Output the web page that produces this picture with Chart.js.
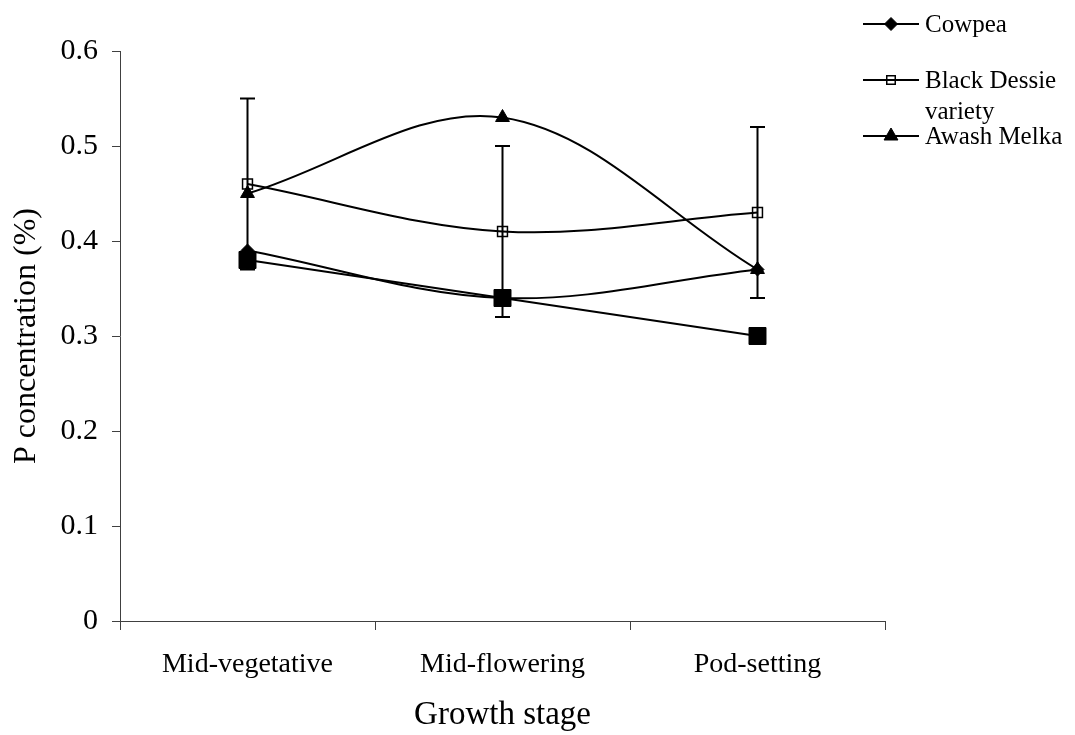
<!DOCTYPE html>
<html>
<head>
<meta charset="utf-8">
<title>P concentration by growth stage</title>
<script src="https://cdn.jsdelivr.net/npm/chart.js@4/dist/chart.umd.min.js"></script>
<style>
  html, body { margin: 0; padding: 0; background: #fff; }
  #wrap { width: 1075px; height: 735px; }
</style>
</head>
<body>
<div id="wrap"><canvas id="pChart" width="1075" height="735"></canvas></div>
<script>
// values
const stages = ['Mid-vegetative', 'Mid-flowering', 'Pod-setting'];
const cowpea = [0.39, 0.34, 0.37];
const blackDessie = [0.46, 0.41, 0.43];
const awashMelka = [0.45, 0.53, 0.37];
const unlabelled = [0.38, 0.34, 0.30];   // big black squares, not in the legend
const blackDessieErr = [0.09, 0.09, 0.09];
const yTickLabels = ['0', '0.1', '0.2', '0.3', '0.4', '0.5', '0.6'];

const serif = '"Liberation Serif", "Times New Roman", serif';
const ink = '#000';
const axisGrey = '#404040';

// error bars on the Black Dessie series
const errorBars = {
  id: 'errorBars',
  afterDatasetsDraw(chart) {
    const ctx = chart.ctx;
    const xs = chart.scales.x, ys = chart.scales.y;
    const cap = 7.5;
    ctx.save();
    ctx.strokeStyle = ink;
    ctx.lineWidth = 2;
    blackDessie.forEach((v, i) => {
      const x = xs.getPixelForValue(i);
      const top = ys.getPixelForValue(v + blackDessieErr[i]);
      const bot = ys.getPixelForValue(v - blackDessieErr[i]);
      ctx.beginPath();
      ctx.moveTo(x, top); ctx.lineTo(x, bot);
      ctx.moveTo(x - cap, top); ctx.lineTo(x + cap, top);
      ctx.moveTo(x - cap, bot); ctx.lineTo(x + cap, bot);
      ctx.stroke();
    });
    ctx.restore();
  }
};

// legend drawn top right, long names wrap like the original
const sideLegend = {
  id: 'sideLegend',
  afterDraw(chart) {
    const ctx = chart.ctx;
    const rowsY = [24, 80, 136];
    const lineX0 = 863, lineX1 = 919, textX = 925, maxW = 145;
    ctx.save();
    ctx.font = '25px ' + serif;
    ctx.fillStyle = ink;
    ctx.textBaseline = 'alphabetic';
    let row = 0;
    chart.data.datasets.forEach(ds => {
      if (!ds.inLegend) return;
      const y = rowsY[row++];
      ctx.strokeStyle = ink;
      ctx.lineWidth = 2;
      ctx.beginPath();
      ctx.moveTo(lineX0, y); ctx.lineTo(lineX1, y);
      ctx.stroke();
      ctx.fillStyle = ds.pointBackgroundColor;
      ctx.strokeStyle = ds.pointBorderColor;
      ctx.lineWidth = ds.pointBorderWidth;
      Chart.helpers.drawPoint(ctx, { pointStyle: ds.pointStyle, radius: ds.legendRadius, rotation: 0, borderWidth: ds.pointBorderWidth },
        (lineX0 + lineX1) / 2, y);
      // wrap words
      const words = ds.label.split(' ');
      const lines = [];
      let cur = '';
      words.forEach(w => {
        const t = cur ? cur + ' ' + w : w;
        if (cur && ctx.measureText(t).width > maxW) { lines.push(cur); cur = w; }
        else cur = t;
      });
      lines.push(cur);
      ctx.fillStyle = ink;
      lines.forEach((t, k) => ctx.fillText(t, textX, y + 8 + k * 31));
    });
    ctx.restore();
  }
};

new Chart(document.getElementById('pChart'), {
  type: 'line',
  data: {
    labels: stages,
    datasets: [
      {
        label: 'Cowpea', data: cowpea, inLegend: true,
        borderColor: ink, borderWidth: 2, tension: 0.35,
        pointStyle: 'rectRot', pointRadius: 6.5, legendRadius: 6.5,
        pointBackgroundColor: ink, pointBorderColor: ink, pointBorderWidth: 1
      },
      {
        label: 'Black Dessie variety', data: blackDessie, inLegend: true,
        borderColor: ink, borderWidth: 2, tension: 0.35,
        pointStyle: 'rect', pointRadius: 7, legendRadius: 6,
        pointBackgroundColor: 'rgba(0,0,0,0)', pointBorderColor: ink, pointBorderWidth: 1.5
      },
      {
        label: 'Awash Melka', data: awashMelka, inLegend: true,
        borderColor: ink, borderWidth: 2, tension: 0.35,
        pointStyle: 'triangle', pointRadius: 8, legendRadius: 8,
        pointBackgroundColor: ink, pointBorderColor: ink, pointBorderWidth: 1
      },
      {
        label: '', data: unlabelled, inLegend: false,
        borderColor: ink, borderWidth: 2, tension: 0,
        pointStyle: 'rect', pointRadius: 12,
        pointBackgroundColor: ink, pointBorderColor: ink, pointBorderWidth: 1
      }
    ]
  },
  options: {
    responsive: false,
    animation: false,
    devicePixelRatio: 1,
    layout: { padding: { top: 51, right: 190, bottom: 0, left: 0 } },
    plugins: { legend: { display: false }, tooltip: { enabled: false } },
    scales: {
      x: {
        type: 'category',
        offset: true,
        grid: { offset: true, drawOnChartArea: false, drawTicks: true, tickLength: 9, color: axisGrey, lineWidth: 1 },
        border: { display: true, color: axisGrey, width: 1 },
        ticks: { color: ink, font: { family: serif, size: 28 }, padding: 18, maxRotation: 0, autoSkip: false },
        title: { display: true, text: 'Growth stage', color: ink, font: { family: serif, size: 33 }, padding: { top: 0, bottom: 0 } },
        afterFit(s) { s.height = 114; }
      },
      y: {
        min: 0,
        max: 0.6,
        grid: { drawOnChartArea: false, drawTicks: true, tickLength: 8, color: axisGrey, lineWidth: 1 },
        border: { display: true, color: axisGrey, width: 1 },
        ticks: {
          stepSize: 0.1, color: ink, font: { family: serif, size: 30 }, padding: 14,
          callback: (v, i) => yTickLabels[i]
        },
        title: { display: true, text: 'P concentration (%)', color: ink, font: { family: serif, size: 32 }, padding: { top: 7, bottom: 0 } },
        afterFit(s) { s.width = 120; }
      }
    }
  },
  plugins: [errorBars, sideLegend]
});
</script>
</body>
</html>
